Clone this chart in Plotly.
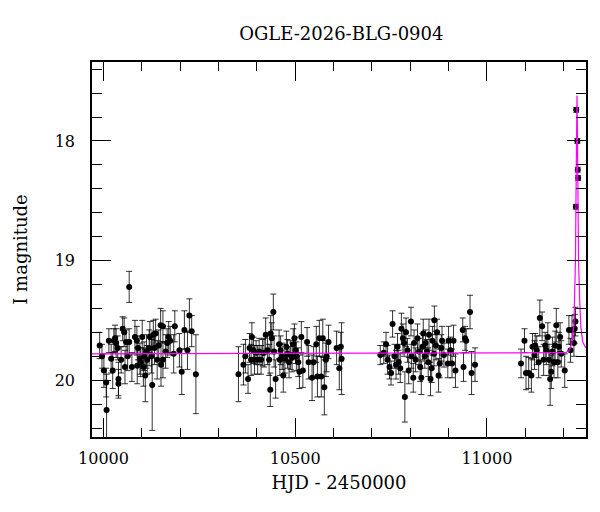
import plotly.graph_objects as go

# ---- data ----
t_s1 = [9990, 9996, 10001, 10007, 10008, 10014, 10020, 10024, 10027, 10030,
        10033, 10037, 10039, 10039, 10046, 10050, 10054, 10056, 10059, 10063,
        10067, 10067, 10074, 10082, 10087, 10088, 10090, 10095, 10097, 10101,
        10104, 10106, 10109, 10112, 10114, 10119, 10121, 10125, 10127, 10130,
        10133, 10136, 10140, 10144, 10149, 10150, 10155, 10155, 10162, 10166,
        10170, 10174, 10183, 10186, 10198, 10204, 10211, 10219, 10224, 10230,
        10241]
m_s1 = [19.71, 19.80, 19.92, 20.02, 20.25, 19.67, 19.82, 19.92, 19.67, 19.65,
        19.69, 19.73, 19.99, 20.03, 19.83, 19.57, 19.60, 19.89, 19.68, 19.80,
        19.22, 19.68, 19.89, 19.64, 19.67, 19.88, 19.73, 19.82, 19.85, 19.64,
        19.89, 19.80, 19.96, 19.76, 19.83, 19.73, 19.64, 19.80, 20.04, 19.62,
        19.73, 19.61, 19.83, 19.71, 19.54, 19.87, 19.55, 19.83, 19.76, 19.69,
        19.64, 19.67, 19.78, 19.55, 19.75, 19.93, 19.58, 19.75, 19.46, 19.59,
        19.95]
e_s1 = [0.11, 0.10, 0.14, 0.12, 0.30, 0.10, 0.12, 0.15, 0.10, 0.11,
        0.12, 0.10, 0.14, 0.12, 0.11, 0.10, 0.12, 0.14, 0.10, 0.12,
        0.13, 0.11, 0.12, 0.14, 0.12, 0.15, 0.10, 0.13, 0.12, 0.14,
        0.16, 0.12, 0.22, 0.14, 0.12, 0.15, 0.13, 0.14, 0.38, 0.12,
        0.14, 0.12, 0.16, 0.13, 0.14, 0.18, 0.13, 0.15, 0.14, 0.12,
        0.13, 0.12, 0.16, 0.13, 0.14, 0.19, 0.16, 0.16, 0.14, 0.13,
        0.33]

t_s2 = [10352, 10365, 10370, 10377, 10381, 10385, 10387, 10391, 10394, 10398,
        10402, 10406, 10411, 10415, 10419, 10423, 10428, 10432, 10435, 10436,
        10439, 10443, 10445, 10449, 10458, 10460, 10462, 10466, 10469, 10473,
        10477, 10480, 10484, 10488, 10492, 10495, 10498, 10501, 10503, 10508,
        10511, 10516, 10520, 10531, 10535, 10544, 10548, 10555, 10558, 10563,
        10568, 10572, 10576, 10580, 10582, 10587, 10608, 10615, 10619, 10621]
m_s2 = [19.95, 19.87, 19.80, 19.99, 19.73, 19.83, 19.64, 19.75, 19.83, 19.77,
        19.83, 19.76, 19.83, 19.77, 19.77, 19.62, 19.75, 19.83, 20.08, 19.61,
        19.65, 19.43, 19.76, 19.99, 19.70, 19.83, 19.75, 19.80, 19.96, 19.82,
        19.72, 19.78, 19.85, 19.79, 19.81, 19.70, 19.65, 19.75, 19.80, 19.85,
        19.93, 19.64, 19.92, 19.68, 19.85, 19.98, 19.85, 19.70, 19.97, 19.65,
        19.97, 19.65, 20.06, 19.83, 19.80, 19.68, 19.73, 19.90, 19.72, 19.82]
e_s2 = [0.23, 0.17, 0.14, 0.12, 0.12, 0.13, 0.12, 0.11, 0.12, 0.10,
        0.12, 0.11, 0.12, 0.11, 0.12, 0.14, 0.12, 0.13, 0.14, 0.15,
        0.13, 0.15, 0.13, 0.16, 0.12, 0.13, 0.12, 0.11, 0.14, 0.12,
        0.13, 0.12, 0.13, 0.12, 0.12, 0.13, 0.12, 0.11, 0.12, 0.12,
        0.14, 0.13, 0.14, 0.12, 0.14, 0.19, 0.13, 0.15, 0.17, 0.15,
        0.17, 0.16, 0.23, 0.14, 0.13, 0.14, 0.14, 0.18, 0.12, 0.30]

t_s3 = [10722, 10731, 10737, 10741, 10746, 10750, 10754, 10759, 10763, 10767,
        10770, 10774, 10777, 10781, 10784, 10786, 10789, 10793, 10796, 10802,
        10803, 10808, 10810, 10814, 10819, 10823, 10826, 10829, 10832, 10834,
        10838, 10840, 10844, 10847, 10849, 10853, 10856, 10858, 10862, 10863,
        10867, 10870, 10874, 10877, 10881, 10883, 10888, 10898, 10900, 10905,
        10909, 10913, 10918, 10937, 10939, 10943, 10946, 10956, 10960, 10969]
m_s3 = [19.79, 19.77, 19.70, 19.83, 19.89, 19.94, 19.53, 19.80, 19.87, 19.72,
        19.85, 19.90, 19.57, 19.65, 19.69, 20.14, 19.60, 19.75, 19.92, 19.51,
        19.80, 19.98, 19.69, 19.83, 19.65, 19.76, 19.89, 19.98, 19.72, 19.61,
        19.80, 19.69, 19.76, 19.85, 19.62, 19.99, 19.90, 19.67, 19.78, 19.50,
        19.71, 19.60, 19.96, 19.86, 19.73, 19.67, 19.79, 19.86, 19.67, 19.75,
        19.86, 19.67, 19.92, 19.58, 19.89, 19.65, 19.67, 19.43, 19.94, 19.87]
e_s3 = [0.08, 0.09, 0.10, 0.12, 0.10, 0.10, 0.11, 0.10, 0.12, 0.11,
        0.10, 0.12, 0.13, 0.12, 0.11, 0.21, 0.12, 0.10, 0.11, 0.12,
        0.10, 0.12, 0.11, 0.10, 0.12, 0.11, 0.12, 0.14, 0.11, 0.12,
        0.10, 0.11, 0.10, 0.12, 0.13, 0.14, 0.12, 0.12, 0.10, 0.12,
        0.12, 0.11, 0.14, 0.12, 0.11, 0.12, 0.10, 0.12, 0.12, 0.11,
        0.12, 0.13, 0.14, 0.10, 0.12, 0.10, 0.10, 0.14, 0.18, 0.14]

t_s4 = [11089, 11098, 11102, 11109, 11116, 11119, 11124, 11126, 11130, 11135,
        11138, 11144, 11148, 11152, 11155, 11159, 11162, 11165, 11168, 11171,
        11175, 11178, 11181, 11185, 11188, 11191, 11194, 11203, 11214, 11218,
        11222, 11227, 11229, 11231, 11232, 11233, 11236, 11237, 11238]
m_s4 = [19.86, 19.67, 19.94, 19.94, 19.96, 19.72, 19.79, 19.71, 19.75, 19.85,
        19.48, 19.55, 19.83, 19.71, 19.75, 19.64, 19.83, 19.99, 19.93, 19.76,
        19.85, 19.71, 19.54, 19.85, 19.72, 19.64, 19.78, 19.92, 19.58, 19.75,
        19.58, 19.69, 19.57, 19.51, 18.55, 17.74, 18.00, 18.24, 18.31]
e_s4 = [0.12, 0.10, 0.14, 0.13, 0.14, 0.11, 0.12, 0.10, 0.12, 0.13,
        0.15, 0.12, 0.13, 0.11, 0.12, 0.12, 0.13, 0.22, 0.14, 0.12,
        0.13, 0.12, 0.14, 0.13, 0.12, 0.12, 0.11, 0.14, 0.12, 0.10,
        0.12, 0.11, 0.12, 0.12, 0.02, 0.02, 0.02, 0.02, 0.02]

# model curve
t_model = [9970, 11205, 11214, 11218, 11222, 11227, 11229, 11231, 11232.5,
           11234, 11235, 11236, 11237.5, 11239, 11242, 11245, 11250, 11258]
m_model = [19.78, 19.77, 19.755, 19.73, 19.68, 19.53, 19.27, 19.0, 18.44,
           17.88, 17.62, 17.88, 18.44, 19.0, 19.33, 19.55, 19.68, 19.73]

title_text = "OGLE-2026-BLG-0904"
x_title = "HJD - 2450000"
y_title = "I magnitude"
x_ticks = [10000, 10500, 11000]
y_ticks = [18, 19, 20]

t_all = t_s1 + t_s2 + t_s3 + t_s4
m_all = m_s1 + m_s2 + m_s3 + m_s4
e_all = e_s1 + e_s2 + e_s3 + e_s4

FONT = "DejaVu Serif"

fig = go.Figure()
fig.add_trace(go.Scatter(
    x=t_all, y=m_all, mode="markers",
    marker=dict(color="black", size=6),
    error_y=dict(type="data", array=e_all, visible=True,
                 color="rgba(0,0,0,0.8)", thickness=1, width=3),
    showlegend=False, hoverinfo="skip"))
fig.add_trace(go.Scatter(
    x=t_model, y=m_model, mode="lines",
    line=dict(color="#ff00ff", width=1.2),
    showlegend=False, hoverinfo="skip"))

axis_common = dict(
    showgrid=False, zeroline=False, showline=True, linecolor="black",
    linewidth=1.5, mirror="ticks", ticks="inside", tickcolor="black",
    tickwidth=1, ticklen=19,
    tickfont=dict(family=FONT, size=16, color="black"),
)

# page has an 8px body margin; figure is sized so the plot frame lands
# where it is in the reference
fig.update_layout(
    width=592, height=504,
    margin=dict(l=79, r=13, t=54, b=75),
    paper_bgcolor="white", plot_bgcolor="white",
    title=dict(text=title_text, x=0.563, xanchor="center",
               y=1 - 25.7 / 504, yanchor="middle", yref="container",
               font=dict(family=FONT, size=18, color="black")),
    xaxis=dict(range=[9970, 11258.5], tickvals=x_ticks,
               ticktext=[str(v) for v in x_ticks],
               minor=dict(dtick=100, tick0=10000, ticks="inside", ticklen=9,
                          tickcolor="black", tickwidth=1),
               ticklabelstandoff=6,
               title=dict(text=x_title, standoff=9,
                          font=dict(family=FONT, size=18, color="black")),
               **axis_common),
    yaxis=dict(range=[20.475, 17.34], tickvals=y_ticks,
               ticktext=[str(v) for v in y_ticks],
               minor=dict(dtick=0.2, tick0=18, ticks="inside", ticklen=10,
                          tickcolor="black", tickwidth=1),
               ticklabelstandoff=12,
               title=dict(text=y_title, standoff=22,
                          font=dict(family=FONT, size=18, color="black")),
               **axis_common),
)

fig.write_html("out.html")
